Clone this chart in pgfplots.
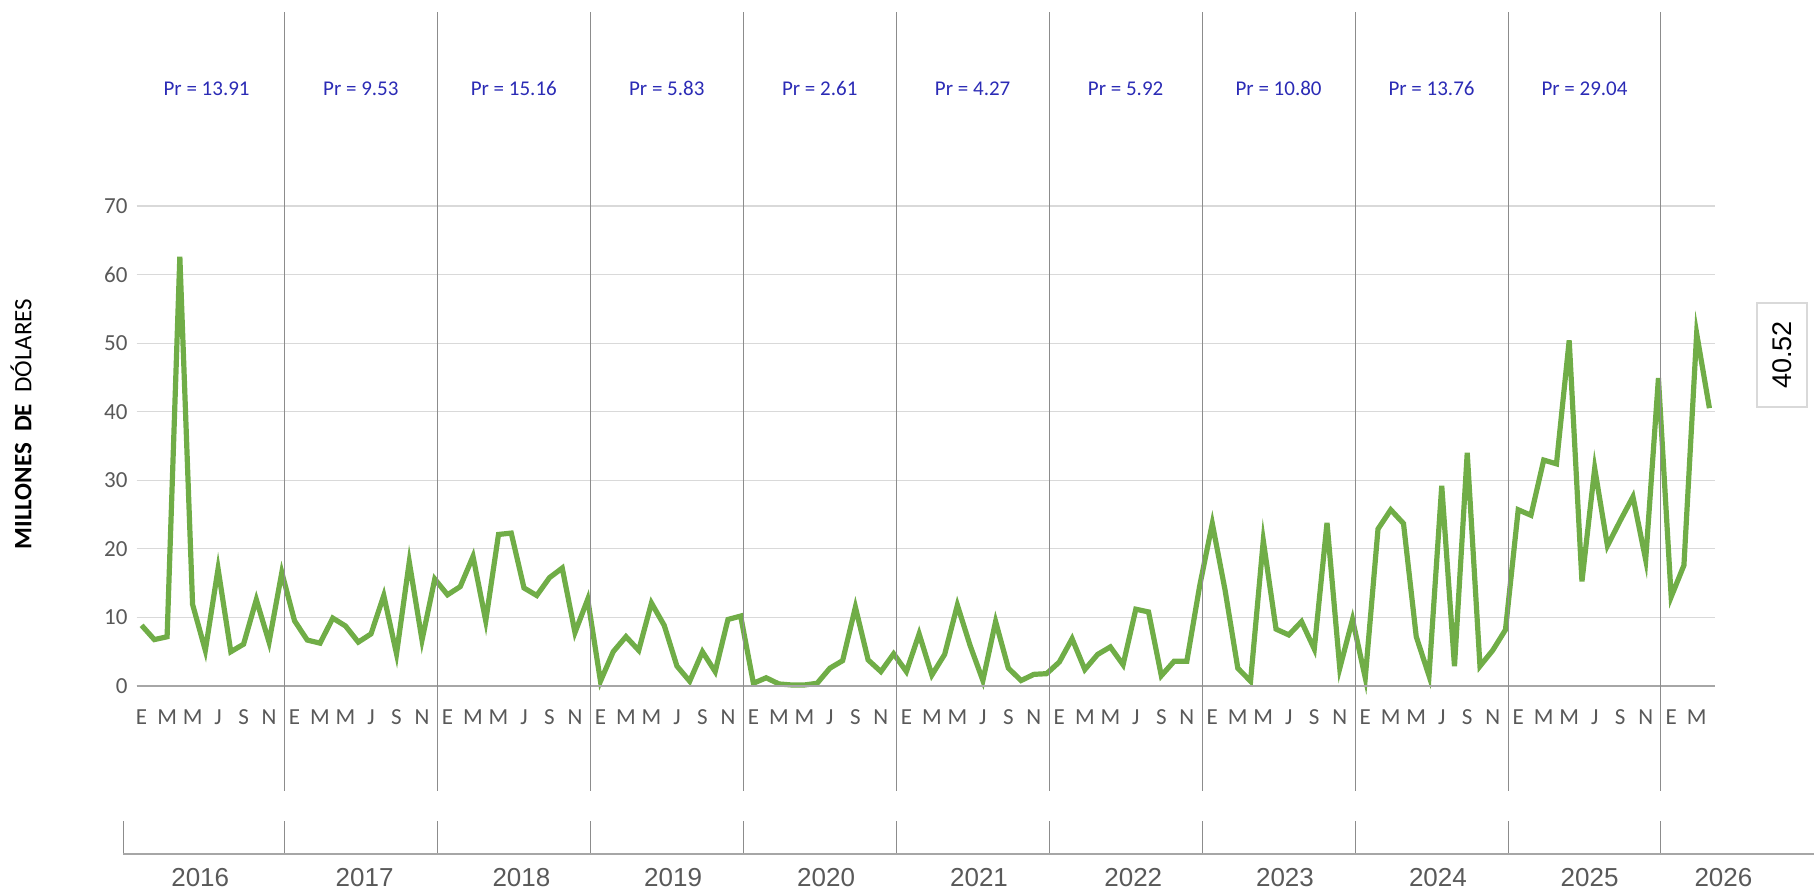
\documentclass[border=0pt]{standalone}
\usepackage{pgfplots}
\usepackage{pgfplotstable}
\pgfplotsset{compat=1.18}
\usepackage{fontspec}
\setmainfont{Carlito}
\newfontfamily\arialf{Liberation Sans}
\definecolor{linegreen}{HTML}{70AD47}
\definecolor{tickgray}{HTML}{595959}
\definecolor{gridgray}{HTML}{D9D9D9}
\definecolor{sepgray}{HTML}{8C8C8C}
\definecolor{axgray}{HTML}{A6A6A6}
\definecolor{prblue}{HTML}{2B2BB5}
\pgfplotstableread{
x y
0 8.85
1 6.77
2 7.18
3 62.6
4 11.9
5 5.2
6 17.1
7 5.0
8 6.1
9 12.6
10 6.4
11 16.55
12 9.5
13 6.7
14 6.25
15 9.9
16 8.75
17 6.4
18 7.6
19 13.2
20 4.7
21 18.1
22 6.7
23 15.6
24 13.3
25 14.5
26 18.9
27 9.5
28 22.1
29 22.3
30 14.3
31 13.2
32 15.8
33 17.2
34 7.8
35 12.65
36 0.7
37 5.0
38 7.2
39 5.2
40 12.1
41 8.85
42 2.9
43 0.7
44 5.0
45 2.1
46 9.7
47 10.2
48 0.4
49 1.2
50 0.3
51 0.15
52 0.15
53 0.4
54 2.6
55 3.7
56 11.5
57 3.8
58 2.1
59 4.7
60 2.1
61 7.6
62 1.6
63 4.6
64 11.8
65 5.9
66 0.8
67 9.4
68 2.6
69 0.8
70 1.7
71 1.8
72 3.5
73 6.9
74 2.4
75 4.6
76 5.7
77 3.1
78 11.2
79 10.8
80 1.5
81 3.6
82 3.6
83 14.5
84 23.7
85 14.0
86 2.6
87 0.7
88 21.2
89 8.3
90 7.45
91 9.4
92 5.4
93 23.8
94 2.6
95 9.7
96 1.2
97 22.9
98 25.7
99 23.7
100 7.2
101 1.5
102 29.2
103 2.9
104 34.0
105 2.9
106 5.2
107 8.2
108 25.7
109 24.9
110 32.95
111 32.4
112 50.4
113 15.25
114 31.75
115 20.45
116 24.1
117 27.6
118 18.4
119 44.9
120 13.0
121 17.6
122 51.4
123 40.52
}\datatable
\begin{document}
\begin{tikzpicture}
\path[use as bounding box] (0,0) rectangle (907pt,445pt);
\begin{axis}[
  at={(68.25pt,102pt)}, anchor=south west,
  scale only axis, width=789pt, height=240pt,
  xmin=-0.4, xmax=123.4, ymin=0, ymax=70,
  clip=false,
  axis line style={draw=none},
  major tick length=0pt,
  ytick={0,10,...,70},
  ymajorgrids, grid style={gridgray, line width=0.6pt},
  xtick={0,2,...,122},
  xticklabels={E,M,M,J,S,N,E,M,M,J,S,N,E,M,M,J,S,N,E,M,M,J,S,N,E,M,M,J,S,N,E,M,M,J,S,N,E,M,M,J,S,N,E,M,M,J,S,N,E,M,M,J,S,N,E,M,M,J,S,N,E,M},
  xticklabel style={anchor=center, yshift=-15.5pt, font=\fontsize{11.5}{13}\selectfont, text=tickgray},
  yticklabel style={font=\fontsize{11.5}{13}\selectfont, text=tickgray, xshift=-1pt},
  /pgf/number format/assume math mode=true,
]
\addplot[linegreen, line width=2.6pt] table[x=x, y=y] {\datatable};
% x axis line
\draw[axgray, line width=0.8pt] (axis cs:-0.4,0) -- (axis cs:123.4,0);
% year separators
\pgfplotsinvokeforeach{11.2,23.2,35.2,47.2,59.2,71.2,83.2,95.2,107.2,119.2}{
  \draw[sepgray, line width=0.5pt] (axis cs:#1,-15.3) -- (axis cs:#1,98.35);
  \draw[sepgray, line width=0.5pt] (axis cs:#1,-19.7) -- (axis cs:#1,-24.5);
}
\draw[sepgray, line width=0.5pt] (axis cs:-1.45,-19.7) -- (axis cs:-1.45,-24.5);
\draw[axgray, line width=1pt] (axis cs:-1.45,-24.5) -- (axis cs:132,-24.5);
% Pr labels
\begin{scope}[every node/.style={text=prblue, font=\fontsize{10.5}{12}\selectfont}]
\node at (axis cs:5.1,87.1) {Pr = 13.91};
\node at (axis cs:17.2,87.1) {Pr = 9.53};
\node at (axis cs:29.2,87.1) {Pr = 15.16};
\node at (axis cs:41.2,87.1) {Pr = 5.83};
\node at (axis cs:53.2,87.1) {Pr = 2.61};
\node at (axis cs:65.2,87.1) {Pr = 4.27};
\node at (axis cs:77.2,87.1) {Pr = 5.92};
\node at (axis cs:89.2,87.1) {Pr = 10.80};
\node at (axis cs:101.2,87.1) {Pr = 13.76};
\node at (axis cs:113.2,87.1) {Pr = 29.04};
\end{scope}
% year labels
\begin{scope}[every node/.style={text=tickgray, font=\arialf\fontsize{13}{15}\selectfont}]
\node at (axis cs:4.6,-27.9) {2016};
\node at (axis cs:17.5,-27.9) {2017};
\node at (axis cs:29.8,-27.9) {2018};
\node at (axis cs:41.7,-27.9) {2019};
\node at (axis cs:53.7,-27.9) {2020};
\node at (axis cs:65.7,-27.9) {2021};
\node at (axis cs:77.8,-27.9) {2022};
\node at (axis cs:89.7,-27.9) {2023};
\node at (axis cs:101.7,-27.9) {2024};
\node at (axis cs:113.6,-27.9) {2025};
\node at (axis cs:124.1,-27.9) {2026};
\end{scope}
\end{axis}
% y label
\node[rotate=90, font=\fontsize{12.5}{14}\selectfont] at (10.5pt,233pt) {\textbf{MILLONES\ \ DE}\ \ DÓLARES};
% value box
\node[rotate=90, draw=gridgray, line width=0.8pt, minimum width=52pt, minimum height=25pt, inner sep=0pt, font=\arialf\fontsize{13.5}{15}\selectfont] at (891pt,267.5pt) {40.52};
\end{tikzpicture}
\end{document}
